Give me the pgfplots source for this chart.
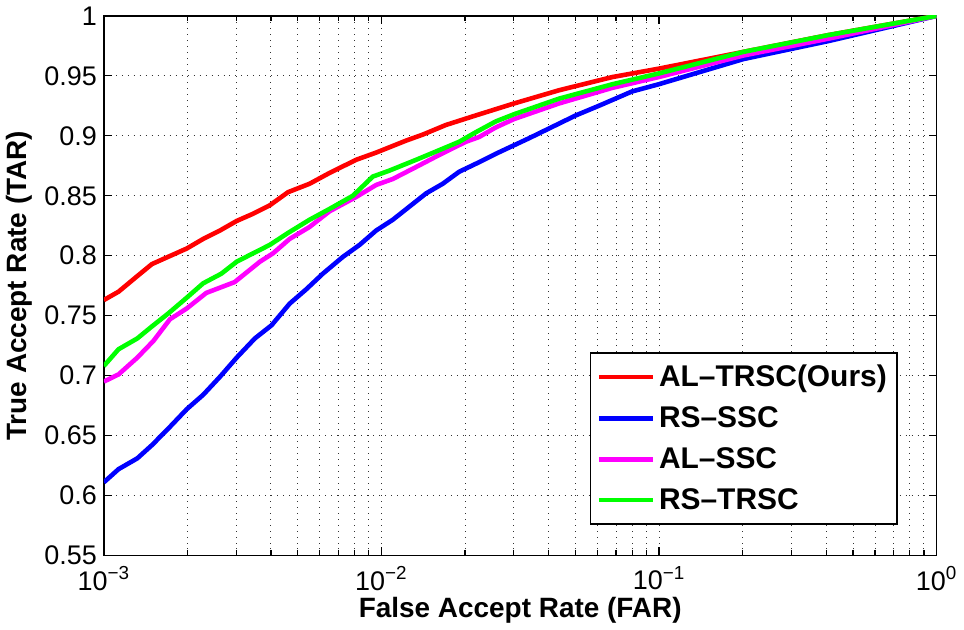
\documentclass[border=0pt]{standalone}
\usepackage{fontspec}
\setmainfont{Liberation Sans}
\usepackage{pgfplots}
\pgfplotsset{compat=1.18}
\definecolor{curvered}{rgb}{1,0,0}
\definecolor{curveblue}{rgb}{0,0,1}
\definecolor{curvemagenta}{rgb}{1,0,1}
\definecolor{curvegreen}{rgb}{0,1,0}

\begin{document}
\begin{tikzpicture}
\begin{axis}[
  scale only axis,
  width=417.5pt, height=270.5pt,
  xmode=log,
  xmin=1e-3, xmax=1,
  ymin=0.55, ymax=1,
  xtick={0.001,0.01,0.1,1},
  xticklabels={10\textsuperscript{−3},10\textsuperscript{−2},10\textsuperscript{−1},10\textsuperscript{0}},
  ytick={0.55,0.6,0.65,0.7,0.75,0.8,0.85,0.9,0.95,1},
  yticklabels={0.55,0.6,0.65,0.7,0.75,0.8,0.85,0.9,0.95,1},
  xmajorgrids, xminorgrids, ymajorgrids,
  major grid style={dash pattern=on 0.5pt off 2.5pt, black!80, line width=0.5pt},
  minor grid style={dash pattern=on 0.5pt off 2.5pt, black!80, line width=0.5pt},
  axis line style={line width=0.75pt},
  tick style={black, line width=0.6pt},
  tick align=inside, tick pos=both,
  major tick length=4pt, minor tick length=2.5pt,
  /pgf/number format/assume math mode=true,
  tick label style={font=\fontsize{13.5}{13.5}\selectfont},
  xticklabel style={yshift=-2pt},
  label style={font=\bfseries\fontsize{14}{14}\selectfont},
  xlabel={False Accept Rate (FAR)},
  ylabel={True Accept Rate (TAR)},
  xlabel style={yshift=3.5pt},
  ylabel style={yshift=-1pt},
  legend style={
    at={(0.953,0.057)}, anchor=south east,
    draw=black, line width=0.75pt,
    font=\bfseries\fontsize{15}{15}\selectfont,
    row sep=4.5pt, inner xsep=3pt, inner ysep=4pt,
    cells={anchor=west},
  },
  legend image code/.code={\draw[#1, line width=2.3pt] (0pt,0pt) -- (27pt,0pt);},
  every axis plot/.append style={line width=2.3pt},
]

% AL-TRSC (ours)
\addplot[curvered] coordinates {
 (0.001,0.763) (0.00113,0.770) (0.00132,0.783) (0.00149,0.793) (0.00178,0.801)
 (0.00199,0.806) (0.00228,0.814) (0.00262,0.821) (0.00301,0.829) (0.00345,0.835)
 (0.00396,0.842) (0.00461,0.853) (0.00551,0.860) (0.00650,0.869) (0.00811,0.880)
 (0.00957,0.886) (0.01227,0.896) (0.01409,0.901) (0.01706,0.909) (0.02188,0.917)
 (0.03006,0.927) (0.04365,0.938) (0.06792,0.949) (0.09977,0.956) (0.2014,0.970)
 (0.4074,0.984) (1,1)
};
\addlegendentry{AL–TRSC(Ours)}

% RS-SSC
\addplot[curveblue] coordinates {
 (0.001,0.611) (0.00113,0.622) (0.00132,0.631) (0.00149,0.642) (0.00171,0.656)
 (0.00199,0.672) (0.00228,0.684) (0.00262,0.699) (0.00301,0.715) (0.00350,0.731)
 (0.00402,0.742) (0.00467,0.760) (0.00536,0.772) (0.00615,0.785) (0.00726,0.799)
 (0.00834,0.809) (0.00957,0.821) (0.01099,0.830) (0.01262,0.841) (0.01449,0.852)
 (0.01663,0.860) (0.01905,0.870) (0.02249,0.878) (0.02582,0.885) (0.03404,0.898)
 (0.05012,0.917) (0.06067,0.925) (0.07998,0.937) (0.09977,0.943) (0.2014,0.964)
 (0.4074,0.979) (1,1)
};
\addlegendentry{RS–SSC}

% AL-SSC
\addplot[curvemagenta] coordinates {
 (0.001,0.695) (0.00113,0.701) (0.00132,0.715) (0.00151,0.729) (0.00173,0.747)
 (0.00199,0.756) (0.00234,0.769) (0.00296,0.778) (0.00365,0.795) (0.00407,0.802)
 (0.00467,0.814) (0.00551,0.824) (0.00650,0.837) (0.00811,0.849) (0.00957,0.859)
 (0.01099,0.864) (0.01334,0.874) (0.01614,0.884) (0.02014,0.895) (0.02249,0.899)
 (0.02582,0.907) (0.03006,0.914) (0.04365,0.927) (0.06792,0.940) (0.09977,0.949)
 (0.2014,0.967) (0.4074,0.981) (1,1)
};
\addlegendentry{AL–SSC}

% RS-TRSC
\addplot[curvegreen] coordinates {
 (0.001,0.708) (0.00113,0.722) (0.00132,0.731) (0.00149,0.741) (0.00171,0.752)
 (0.00199,0.765) (0.00228,0.777) (0.00265,0.785) (0.00301,0.795) (0.00345,0.802)
 (0.00396,0.809) (0.00461,0.819) (0.00551,0.830) (0.00650,0.839) (0.00789,0.850)
 (0.00931,0.866) (0.01069,0.871) (0.01334,0.880) (0.01614,0.888) (0.01905,0.895)
 (0.02188,0.903) (0.02582,0.912) (0.03006,0.918) (0.04365,0.931) (0.06792,0.943)
 (0.09977,0.952) (0.2014,0.970) (0.4074,0.984) (1,1)
};
\addlegendentry{RS–TRSC}

\end{axis}
\end{tikzpicture}
\end{document}
